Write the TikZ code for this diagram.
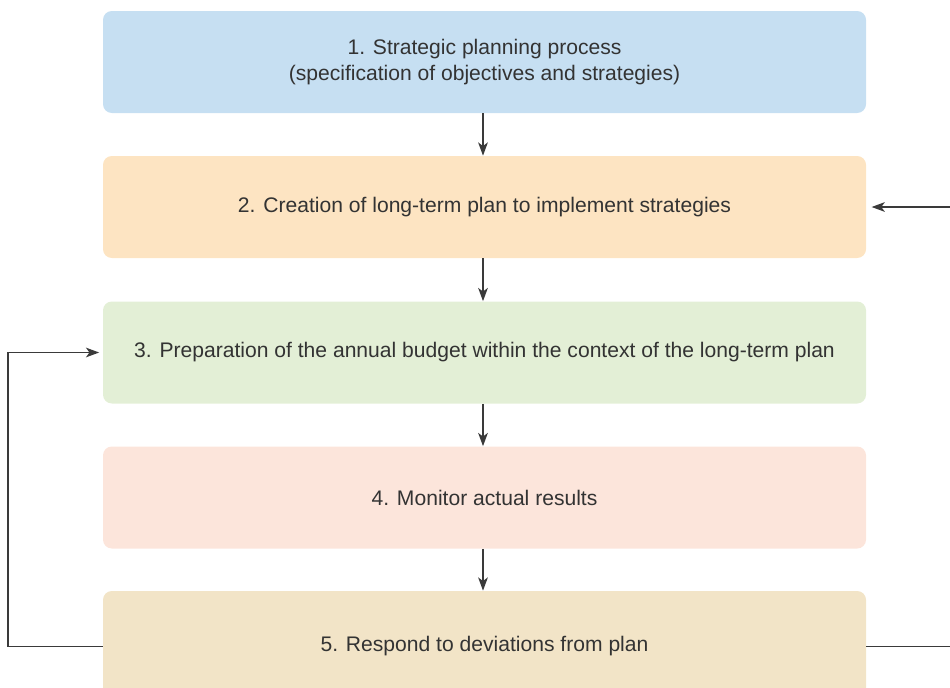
\documentclass[tikz,border=0pt]{standalone}
\usepackage{fontspec}
\setmainfont{Liberation Sans}
\usepackage{tikz}
\usetikzlibrary{arrows.meta, positioning, calc}

\definecolor{boxblue}{HTML}{C6DFF2}
\definecolor{boxorange}{HTML}{FDE4C2}
\definecolor{boxgreen}{HTML}{E3EFD6}
\definecolor{boxpink}{HTML}{FCE5DB}
\definecolor{boxsand}{HTML}{F2E4C7}
\definecolor{textgray}{HTML}{333333}
\definecolor{linegray}{HTML}{3A3A3A}

\begin{document}
\begin{tikzpicture}[
    stagebox/.style={rounded corners=5pt, minimum width=15.26cm, minimum height=2.04cm,
      align=center, text=textgray, font=\fontsize{12}{14.7}\selectfont},
    flow/.style={linegray, line width=0.75pt, -{Stealth[length=7.5pt, width=5.5pt, inset=2pt]}},
    back/.style={linegray, line width=0.75pt}
  ]
  \useasboundingbox (0,0) rectangle (19,-13.74);

  % Boites
  \node[stagebox, fill=boxblue]   (plan)    at (9.69,-1.24) {1. Strategic planning process\\(specification of objectives and strategies)};
  \node[stagebox, fill=boxorange] (longterm) at (9.69,-4.14) {2. Creation of long-term plan to implement strategies};
  \node[stagebox, fill=boxgreen]  (budget)  at (9.69,-7.05) {3. Preparation of the annual budget within the context of the long-term plan};
  \node[stagebox, fill=boxpink]   (monitor) at (9.69,-9.95) {4. Monitor actual results};
  \node[stagebox, fill=boxsand, minimum height=2.22cm] (respond) at (9.69,-12.93) {5. Respond to deviations from plan};

  % Fleches
  \draw[flow] (plan.south -| 9.66,0) -- (longterm.north -| 9.66,0);
  \draw[flow] (longterm.south -| 9.66,0) -- (budget.north -| 9.66,0);
  \draw[flow] (budget.south -| 9.66,0) -- (monitor.north -| 9.66,0);
  \draw[flow] (monitor.south -| 9.66,0) -- (respond.north -| 9.66,0);

  % Retours
  \coordinate (leftturn) at (0.16,-12.93);
  \coordinate (rightturn) at (19.4,-12.93);
  \draw[back] (respond.west) -- (leftturn);
  \draw[flow, shorten >=2pt] (leftturn) |- (budget.west);
  \draw[back] (respond.east) -- (rightturn);
  \draw[flow, shorten >=3pt] (rightturn) |- (longterm.east);
\end{tikzpicture}
\end{document}
